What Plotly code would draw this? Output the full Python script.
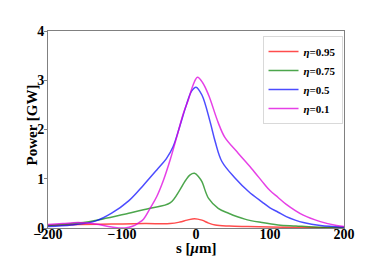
import plotly.graph_objects as go

# data (s in µm, power in GW)
s_095 = [-200, -159, -114, -69, -35, -22, -12, -2, 8, 17, 26, 45, 70, 100, 140, 200]
p_095 = [0.05, 0.07, 0.08, 0.09, 0.09, 0.12, 0.16, 0.19, 0.16, 0.10, 0.06, 0.04, 0.03, 0.02, 0.01, 0.0]

s_075 = [-200, -159, -127, -91, -62, -35, -22, -14, -8, -2, 4, 8, 17, 30, 44, 66, 89, 111, 135, 160, 200]
p_075 = [0.05, 0.10, 0.18, 0.30, 0.40, 0.51, 0.77, 0.97, 1.08, 1.11, 1.03, 0.94, 0.60, 0.40, 0.30, 0.18, 0.11, 0.06, 0.04, 0.02, 0.01]

s_05 = [-200, -168, -136, -114, -91, -71, -53, -40, -31, -22, -13, -6, 0, 8, 19, 26, 35, 53, 71, 89, 100, 111, 122, 134, 145, 168, 200]
p_05 = [0.03, 0.06, 0.14, 0.30, 0.55, 0.87, 1.18, 1.41, 1.65, 2.06, 2.50, 2.78, 2.86, 2.70, 2.16, 1.75, 1.35, 1.01, 0.74, 0.53, 0.41, 0.32, 0.23, 0.16, 0.11, 0.05, 0.02]

s_01 = [-200, -180, -159, -136, -114, -96, -85, -78, -71, -62, -53, -44, -35, -26, -17, -10, -4, 2, 9, 17, 30, 39, 57, 75, 93, 100, 111, 122, 145, 168, 190, 200]
p_01 = [0.07, 0.09, 0.11, 0.08, 0.02, 0.0, 0.04, 0.10, 0.18, 0.40, 0.64, 0.97, 1.38, 1.85, 2.33, 2.62, 2.90, 3.06, 2.95, 2.70, 2.14, 1.84, 1.52, 1.21, 0.88, 0.76, 0.62, 0.48, 0.26, 0.13, 0.05, 0.03]

labels = ["<i>η</i>=0.95", "<i>η</i>=0.75", "<i>η</i>=0.5", "<i>η</i>=0.1"]
colors = ["rgba(255,0,0,0.7)", "rgba(0,128,0,0.7)", "rgba(0,0,255,0.7)", "rgba(221,0,221,0.75)"]

x_ticks = [-200, -100, 0, 100, 200]
x_tick_text = ["−200", "−100", "0", "100", "200"]
y_ticks = [0, 1, 2, 3, 4]
x_title = "s [<i>μ</i>m]"
y_title = "Power [GW]"

FONT = "Liberation Serif"

fig = go.Figure()
for xs, ys, lab, col in zip([s_095, s_075, s_05, s_01], [p_095, p_075, p_05, p_01], labels, colors):
    fig.add_trace(go.Scatter(x=xs, y=ys, mode="lines", name=lab,
                             line=dict(color=col, width=1.5, shape="spline", smoothing=1.0)))

# page body has an 8px margin, so the figure is sized to fit inside the window
fig.update_layout(
    width=375, height=248,
    margin=dict(l=40, r=39, t=23, b=28),
    paper_bgcolor="white", plot_bgcolor="white",
    font=dict(family=FONT, size=14, color="black", weight="bold"),
    showlegend=True,
    legend=dict(x=0.995, y=0.975, xanchor="right", yanchor="top",
                bgcolor="white", bordercolor="#d9d9d9", borderwidth=1,
                font=dict(family=FONT, size=11, color="black", weight="bold"),
                itemwidth=30, tracegroupgap=0),
    annotations=[
        dict(text=x_title, xref="paper", yref="paper", x=0.5, y=0, yshift=-20,
             xanchor="center", yanchor="middle", showarrow=False,
             font=dict(family=FONT, size=15, weight="bold", color="black")),
        dict(text=y_title, xref="paper", yref="paper", x=0, y=0.5, xshift=-17, yshift=4,
             xanchor="center", yanchor="middle", textangle=-90, showarrow=False,
             font=dict(family=FONT, size=15, weight="bold", color="black")),
    ],
)
fig.update_xaxes(range=[-200, 200], tickvals=x_ticks, ticktext=x_tick_text,
                 showgrid=False, zeroline=False, showline=True, mirror=True,
                 linecolor="#808080", linewidth=1, ticks="",
                 automargin=False, ticklabelstandoff=-7,
                 tickfont=dict(family=FONT, size=14, weight="bold"))
fig.update_yaxes(range=[0, 4], tickvals=y_ticks,
                 showgrid=False, zeroline=False, showline=True, mirror=True,
                 linecolor="#808080", linewidth=1, ticks="outside", ticklen=3,
                 tickcolor="#808080", automargin=False, ticklabelstandoff=-3,
                 tickfont=dict(family=FONT, size=14, weight="bold"))

fig.write_html("out.html")
